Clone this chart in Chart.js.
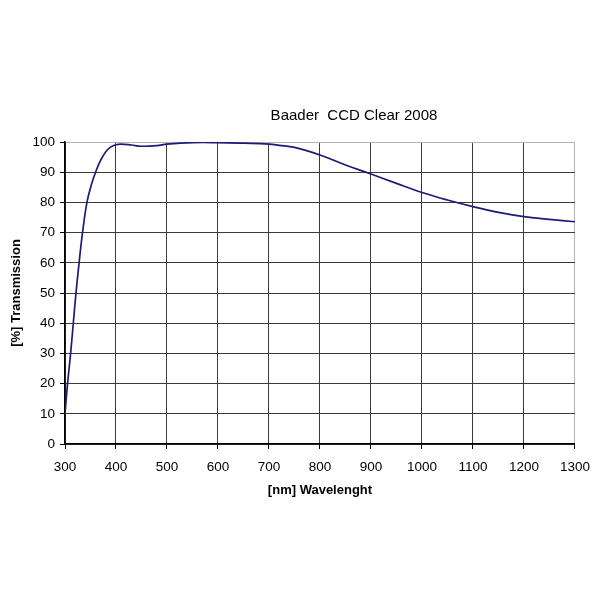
<!DOCTYPE html>
<html>
<head>
<meta charset="utf-8">
<script src="https://cdn.jsdelivr.net/npm/chart.js@4"></script>
<style>
html,body{margin:0;padding:0;background:#fff;}
#wrap{width:600px;height:600px;}
</style>
</head>
<body>
<div id="wrap"><canvas id="c" width="600" height="600"></canvas></div>
<script>
const chartTitle = "Baader  CCD Clear 2008";
const xAxisTitle = "[nm] Wavelenght";
const yAxisTitle = "[%] Transmission";
const wavelengths = [300,305,311,316,321,327,334,343,352,361,370,380,390,400,410,430,450,480,500,550,600,650,700,720,750,800,850,900,950,1000,1050,1100,1150,1200,1250,1300];
const transmission = [10,20,30,39.5,49,59,69.5,80,86,90.5,94,96.8,98.4,99.1,99.3,99.0,98.6,98.8,99.3,99.8,99.8,99.6,99.3,98.9,98.2,95.7,92.4,89.4,86.3,83.3,80.8,78.6,76.7,75.3,74.4,73.6];
const xMin = 300, xMax = 1300, xStep = 100;
const yMin = 0, yMax = 100, yStep = 10;

const FONT = 'Arial, "Liberation Sans", sans-serif';

const titlePlugin = {
  id: 'customTitle',
  afterDraw(chart) {
    const ctx = chart.ctx;
    ctx.save();
    ctx.font = '15px ' + FONT;
    ctx.fillStyle = '#000';
    ctx.textAlign = 'center';
    ctx.textBaseline = 'middle';
    ctx.fillText(chartTitle, 354, 116);
    ctx.restore();
  }
};

const points = wavelengths.map((w, i) => ({x: w, y: transmission[i]}));

new Chart(document.getElementById('c'), {
  type: 'line',
  data: {
    datasets: [{
      data: points,
      borderColor: '#1c1c78',
      borderWidth: 1.7,
      pointRadius: 0,
      fill: false,
      tension: 0.4
    }]
  },
  options: {
    responsive: false,
    animation: false,
    devicePixelRatio: 1,
    layout: {padding: {left: 0, right: 25, top: 142, bottom: 96}},
    plugins: {legend: {display: false}, tooltip: {enabled: false}, title: {display: false}},
    scales: {
      x: {
        type: 'linear',
        min: xMin, max: xMax,
        afterFit: (s) => { s.height = 60; },
        ticks: {stepSize: xStep, color: '#000', font: {family: FONT, size: 13.5}, padding: 10, maxRotation: 0,
                callback: (v) => String(v)},
        grid: {
          color: (c) => (c.tick && c.tick.value === xMax) ? '#b4b4b4' : '#3a3a3a',
          tickColor: '#000', tickLength: 5, lineWidth: 1
        },
        border: {color: '#000', width: 1.5},
        title: {display: true, text: xAxisTitle, color: '#000', font: {family: FONT, size: 13, weight: 'bold'}, padding: {top: 0, bottom: 6}}
      },
      y: {
        min: yMin, max: yMax,
        afterFit: (s) => { s.width = 65; },
        ticks: {stepSize: yStep, color: '#000', font: {family: FONT, size: 13.5}, padding: 5,
                callback: (v) => String(v)},
        grid: {
          color: (c) => (c.tick && c.tick.value === yMax) ? '#b4b4b4' : '#3a3a3a',
          tickColor: '#000', tickLength: 5, lineWidth: 1
        },
        border: {color: '#000', width: 1.5},
        title: {display: true, text: yAxisTitle, color: '#000', font: {family: FONT, size: 13, weight: 'bold'}, padding: {top: 9, bottom: 0}}
      }
    }
  },
  plugins: [titlePlugin]
});
</script>
</body>
</html>
